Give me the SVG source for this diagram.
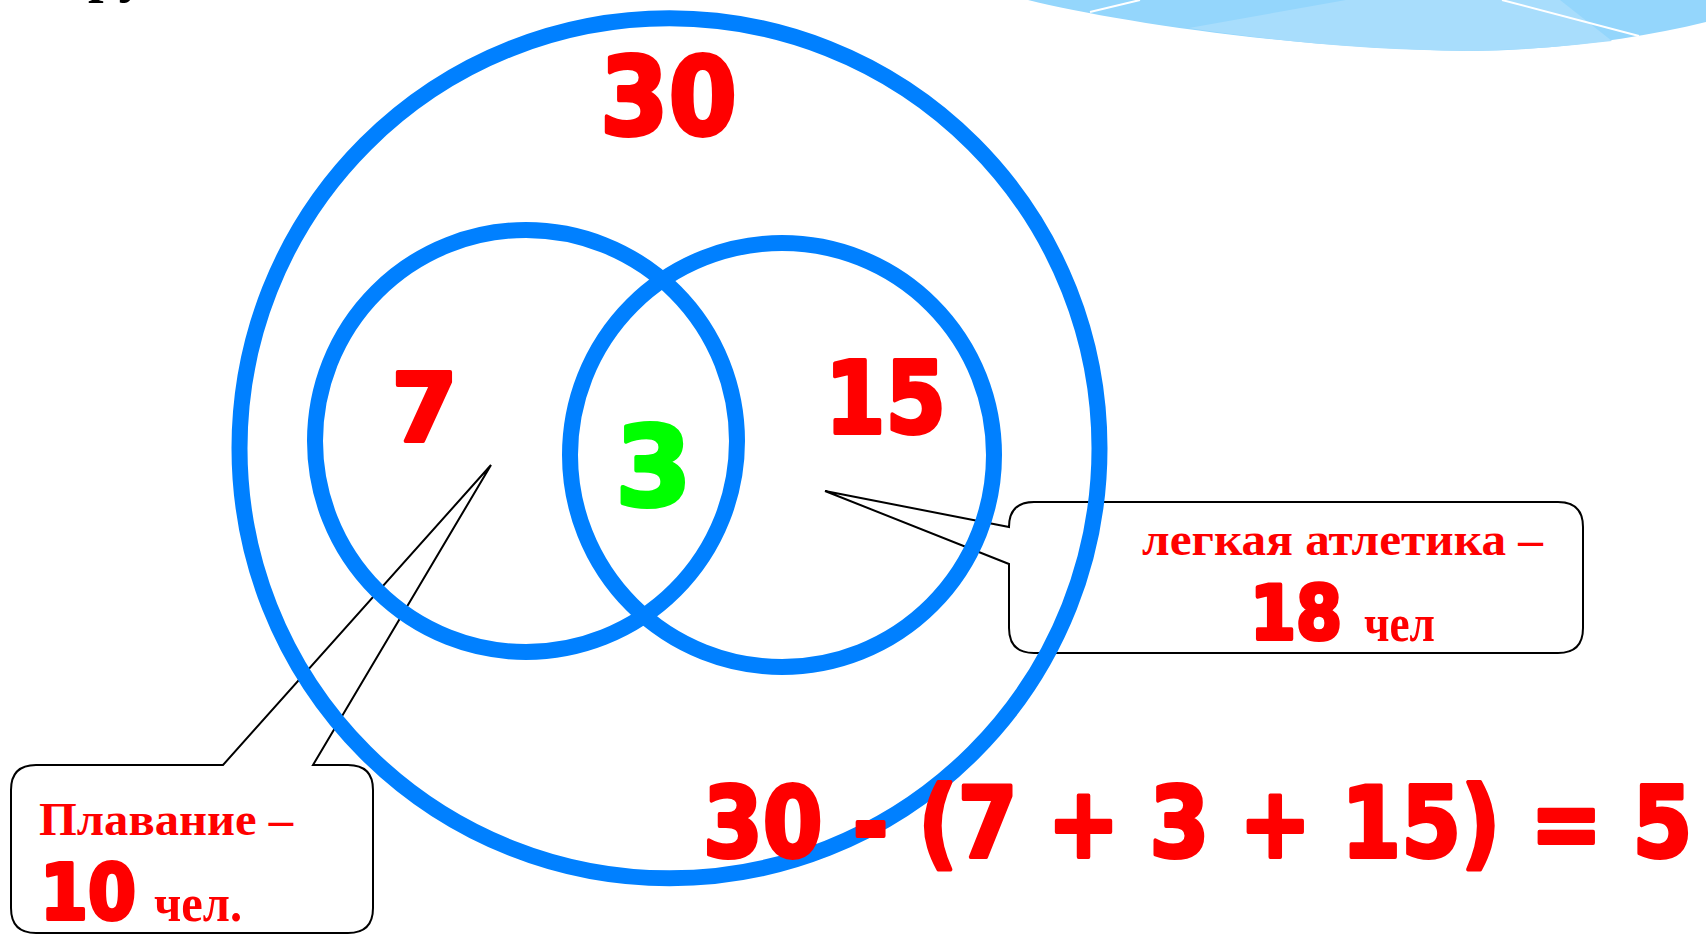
<svg xmlns="http://www.w3.org/2000/svg" width="1706" height="934" viewBox="0 0 1706 934">
<style>
.ring{fill:none;stroke:#0080FF;stroke-width:16}
.num{font-family:"DejaVu Sans","Liberation Sans",sans-serif;font-weight:bold;fill:#FF0000;stroke:#FF0000;stroke-width:4;stroke-linejoin:round;text-anchor:middle}
.green{fill:#00FF00;stroke:#00FF00}
.lbl{font-family:"Liberation Serif","Times New Roman",serif;font-weight:bold;fill:#FF0000}
.call{fill:none;stroke:#000;stroke-width:2;stroke-linejoin:miter}
</style>
<rect width="1706" height="934" fill="#fff"/>
<g id="decor">
<path d="M1028,0 C1110,20 1280,48 1469,51 C1560,50 1640,38 1706,22 L1706,0 Z" fill="#94D6FC"/>
<path d="M1189,28 L1346,0 L1560,0 L1612,41 C1560,47 1520,50 1469,51 C1360,50 1270,40 1189,28 Z" fill="#A8DDFC"/>
<path d="M1090,12 L1140,0" stroke="#fff" stroke-width="2" fill="none"/>
<path d="M1502,0 L1639,36" stroke="#fff" stroke-width="2" fill="none"/>
</g>
<text x="88" y="-9" font-family="Liberation Serif, serif" font-weight="bold" font-size="56" fill="#000">ру</text>
<g id="callouts">
<g id="callout-swim">
<path class="call" d="M223,765 L36,765 Q11,765 11,790 L11,908 Q11,933 36,933 L348,933 Q373,933 373,908 L373,790 Q373,765 348,765 L313,765 L491,465 Z"/>
</g>
<g id="callout-athletics">
<path class="call" d="M1009,527 Q1009,502 1034,502 L1558,502 Q1583,502 1583,527 L1583,628 Q1583,653 1558,653 L1034,653 Q1009,653 1009,628 L1009,564 L825,491 Z"/>
</g>
</g>
<g id="outer"><circle class="ring" cx="669.5" cy="448.3" r="430"/></g>
<g id="swim"><circle class="ring" cx="526" cy="441" r="211"/></g>
<g id="athletics"><circle class="ring" cx="782" cy="455" r="212"/></g>
<g id="labels">
<text class="num" x="668.5" y="134" font-size="109" textLength="137" lengthAdjust="spacingAndGlyphs">30</text>
<text class="num" x="424.5" y="441" font-size="95">7</text>
<text class="num green" x="653.5" y="505" font-size="110">3</text>
<text class="num" x="885.5" y="433" font-size="99" textLength="121" lengthAdjust="spacingAndGlyphs">15</text>
<text class="num" transform="scale(0.878,1)" x="800.7" y="857" font-size="98" style="text-anchor:start">30 - (7 + 3 + 15) = 5</text>
<text class="lbl" x="39" y="835" font-size="46" textLength="254" lengthAdjust="spacingAndGlyphs">Плавание –</text>
<text class="num" x="40" y="919" font-size="76" style="text-anchor:start" textLength="96" lengthAdjust="spacingAndGlyphs">10</text>
<text class="lbl" x="154" y="921" font-size="52" textLength="88" lengthAdjust="spacingAndGlyphs">чел.</text>
<text class="lbl" x="1142" y="555" font-size="46" textLength="401" lengthAdjust="spacingAndGlyphs">легкая  атлетика –</text>
<text class="num" x="1250" y="639" font-size="74" style="text-anchor:start" textLength="92" lengthAdjust="spacingAndGlyphs">18</text>
<text class="lbl" x="1364" y="641" font-size="52" textLength="71" lengthAdjust="spacingAndGlyphs">чел</text>
</g>
</svg>
